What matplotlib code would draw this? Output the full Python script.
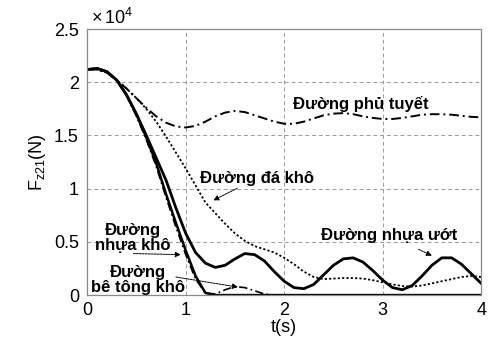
import numpy as np
import matplotlib
matplotlib.use('Agg')
import matplotlib.pyplot as plt
from matplotlib.ticker import FuncFormatter

plt.rcParams['font.family'] = ['Liberation Sans', 'DejaVu Sans']
plt.rcParams['mathtext.fontset'] = 'custom'
plt.rcParams['mathtext.rm'] = 'Liberation Sans'
plt.rcParams['mathtext.it'] = 'Liberation Sans'

# thoi gian mo phong (s), buoc 0.1
t = np.round(np.arange(0, 4.01, 0.1), 1)

# luc Fz21 (x 1e4 N) tren tung loai mat duong
phu_tuyet = [2.12, 2.12, 2.09, 2.02, 1.94, 1.85, 1.76, 1.68, 1.62, 1.585,
             1.575, 1.59, 1.63, 1.68, 1.715, 1.73, 1.72, 1.69, 1.66, 1.63,
             1.61, 1.61, 1.63, 1.66, 1.69, 1.705, 1.71, 1.70, 1.68, 1.665,
             1.655, 1.655, 1.665, 1.68, 1.695, 1.70, 1.70, 1.695, 1.685, 1.675,
             1.67]
da_kho = [2.12, 2.12, 2.09, 2.02, 1.94, 1.85, 1.75, 1.63, 1.49, 1.34,
          1.19, 1.03, 0.87, 0.77, 0.67, 0.58, 0.51, 0.46, 0.43, 0.40,
          0.35, 0.29, 0.22, 0.17, 0.15, 0.155, 0.16, 0.16, 0.155, 0.14,
          0.12, 0.10, 0.085, 0.08, 0.09, 0.11, 0.13, 0.15, 0.17, 0.18,
          0.17]
nhua_uot = [2.12, 2.13, 2.10, 2.02, 1.88, 1.70, 1.50, 1.29, 1.08, 0.82,
            0.58, 0.40, 0.30, 0.26, 0.28, 0.34, 0.39, 0.38, 0.32, 0.22,
            0.13, 0.07, 0.06, 0.10, 0.19, 0.28, 0.34, 0.35, 0.31, 0.23,
            0.14, 0.07, 0.05, 0.09, 0.18, 0.28, 0.35, 0.35, 0.29, 0.20,
            0.11]
nhua_kho = [2.12, 2.13, 2.10, 2.02, 1.88, 1.70, 1.48, 1.24, 0.95, 0.68,
            0.42, 0.18, 0.02, 0, 0, 0, 0, 0, 0, 0,
            0, 0, 0, 0, 0, 0, 0, 0, 0, 0,
            0, 0, 0, 0, 0, 0, 0, 0, 0, 0,
            0]
be_tong_kho = [2.12, 2.13, 2.10, 2.02, 1.87, 1.68, 1.46, 1.21, 0.92, 0.64,
               0.38, 0.15, 0.02, 0.01, 0.05, 0.08, 0.07, 0.04, 0.01, 0,
               0, 0, 0, 0, 0, 0, 0, 0, 0, 0,
               0, 0, 0, 0, 0, 0, 0, 0, 0, 0,
               0]

fig = plt.figure(figsize=(4.9, 3.38), dpi=100)
ax = fig.add_axes([0.178, 0.127, 0.804, 0.787])

ax.plot(t, phu_tuyet, color='k', lw=1.4, ls=(0, (5, 2, 1, 2)))
ax.plot(t, da_kho, color='k', lw=1.3, ls=(0, (1.2, 1.2)))
ax.plot(t, be_tong_kho, color='k', lw=1.2, ls=(0, (5, 2, 1, 2)))
ax.plot(t, nhua_kho, color='k', lw=1.8)
ax.plot(t, nhua_uot, color='k', lw=2.0)

ax.set_xlim(0, 4)
ax.set_ylim(0, 2.5)
ax.set_xticks([0, 1, 2, 3, 4])
ax.set_yticks([0, 0.5, 1, 1.5, 2, 2.5])
ax.yaxis.set_major_formatter(FuncFormatter(lambda v, p: '%g' % v))
ax.tick_params(labelsize=13, length=0)
ax.tick_params(axis='x', pad=5)
ax.tick_params(axis='y', pad=6)
ax.grid(True, color='#9a9a9a', ls=(0, (4, 3)), lw=0.7)
for s in ax.spines.values():
    s.set_color('#888888')
    s.set_linestyle((0, (2, 1)))
    s.set_linewidth(0.9)

ax.text(0.01, 1.005, r'$\times\,10^{4}$', transform=ax.transAxes,
        fontsize=13, ha='left', va='bottom')
ax.set_xlabel('t(s)', fontsize=13, labelpad=0)
ax.set_ylabel(r'F$_{z21}$(N)', fontsize=13, labelpad=4)

fs = 12
fw = 'bold'
arr = dict(arrowstyle='-|>', color='k', lw=0.7, ls=(0, (2, 1)),
           shrinkA=0, shrinkB=0, mutation_scale=8)
ax.text(2.78, 1.80, 'Đường phủ tuyết', fontsize=fs, fontweight=fw,
        ha='center', va='center')
ax.annotate('Đường đá khô', xy=(1.28, 0.89), xytext=(1.15, 1.10),
            fontsize=fs, fontweight=fw, ha='left', va='center', arrowprops=arr)
ax.annotate('Đường nhựa ướt', xy=(3.5, 0.37), xytext=(3.07, 0.56),
            fontsize=fs, fontweight=fw, ha='center', va='center',
            arrowprops=dict(arr, shrinkA=6))
ax.text(0.46, 0.54, 'Đường\nnhựa khô', fontsize=fs, fontweight=fw,
        ha='center', va='center', linespacing=1.0)
ax.annotate('', xy=(0.95, 0.38), xytext=(0.47, 0.39), arrowprops=arr)
ax.text(0.52, 0.14, 'Đường\nbê tông khô', fontsize=fs, fontweight=fw,
        ha='center', va='center', linespacing=1.0)
ax.annotate('', xy=(1.53, 0.075), xytext=(0.90, 0.17), arrowprops=arr)

fig.savefig('out.png', dpi=100)
